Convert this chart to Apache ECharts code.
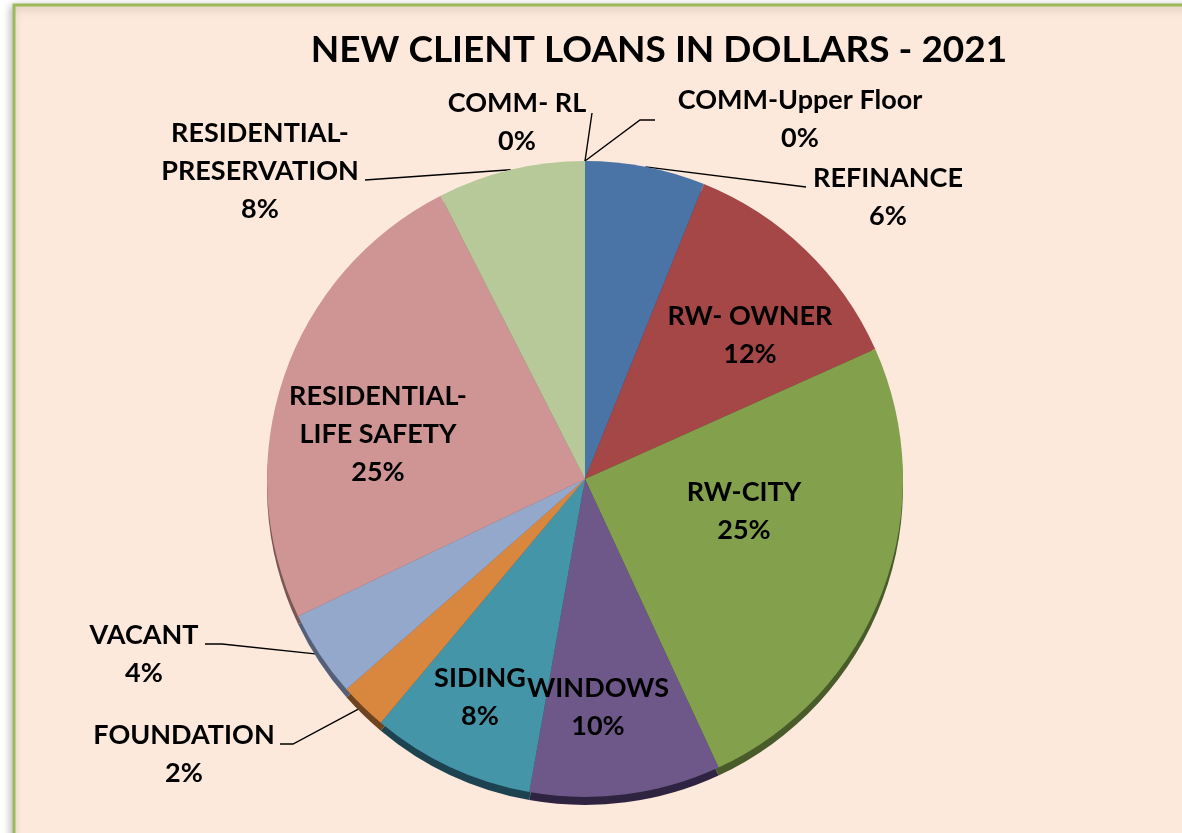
<!DOCTYPE html>
<html><head><meta charset="utf-8">
<script src="https://cdn.jsdelivr.net/npm/echarts@6/dist/echarts.min.js"></script>
<style>html,body{margin:0;padding:0;background:#fff}#c{width:1182px;height:833px}</style>
</head><body><div id="c"></div>
<script>
// ---- data ----
const chartTitle = 'NEW CLIENT LOANS IN DOLLARS - 2021';
const categories = ['REFINANCE', 'RW- OWNER', 'RW-CITY', 'WINDOWS', 'SIDING', 'FOUNDATION', 'VACANT',
  'RESIDENTIAL-\nLIFE SAFETY', 'RESIDENTIAL-\nPRESERVATION', 'COMM- RL', 'COMM-Upper Floor'];
const shares = [6.1, 12.2, 24.8, 9.7, 8.3, 2.4, 4.4, 24.6, 7.5, 0, 0];

// ---- styles ----
const sliceColors = ['#4A74A6', '#A44746', '#83A04C', '#6E5889', '#4595A9', '#D9873F', '#94A8CB', '#CF9594', '#B8C999', '#4A74A6', '#A44746'];
const rimColors = ['#2A4262', '#5E2827', '#4A5B2B', '#2E2340', '#1E4350', '#6E4420', '#546079', '#7A5757', '#6B7758', '#2A4262', '#5E2827'];
const outsideLabel = [true, false, false, false, false, true, true, false, true, true, true];
// label block centres and leader end points (layout only)
const labelPlacement = [
  {x: 888, y: 197, line: [[806, 187], [806, 187]]},
  {x: 750, y: 335},
  {x: 744, y: 511},
  {x: 598, y: 707},
  {x: 480, y: 697},
  {x: 184, y: 754, line: [[293, 744], [280, 744]]},
  {x: 144, y: 654, line: [[222, 644], [205, 644]]},
  {x: 378, y: 434},
  {x: 260, y: 171, line: [[365, 180], [365, 180]]},
  {x: 517, y: 122, line: [[592, 113], [592, 113]]},
  {x: 800, y: 119, line: [[640, 120], [655, 120]]}
];
const cx = 585, cy = 479, R = 318;
const FONT = 'Lato';

const chart = echarts.init(document.getElementById('c'), null, {renderer: 'canvas'});
chart.setOption({
  animation: false,
  graphic: [{
    type: 'rect', z: -10, silent: true,
    shape: {x: 14, y: 5, width: 1300, height: 1000},
    style: {fill: '#FCE9DB', stroke: '#9BBB59', lineWidth: 3, shadowBlur: 8, shadowColor: 'rgba(0,0,0,0.25)', shadowOffsetX: -2, shadowOffsetY: 2}
  }],
  title: {
    text: chartTitle, left: 654, top: 27, textAlign: 'center',
    textStyle: {fontFamily: FONT, fontWeight: 'bold', fontSize: 37, color: '#000'}
  },
  series: [
    {
      type: 'pie', silent: true, center: [cx, cy + 8], radius: R, startAngle: 90, clockwise: true,
      label: {show: false}, labelLine: {show: false},
      data: shares.map((v, i) => ({name: categories[i], value: v, itemStyle: {color: rimColors[i]}}))
    },
    {
      type: 'pie', center: [cx, cy], radius: R, startAngle: 90, clockwise: true,
      avoidLabelOverlap: false,
      itemStyle: {borderWidth: 0},
      label: {
        show: true, color: '#000', fontFamily: FONT, fontWeight: 'bold', fontSize: 27, lineHeight: 38,
        formatter: p => p.name + '\n' + Math.round(p.percent) + '%'
      },
      labelLine: {show: true, lineStyle: {color: '#000', width: 1.4}},
      labelLayout: function (p) {
        const pl = labelPlacement[p.dataIndex];
        const out = {x: pl.x, y: pl.y, align: 'center', verticalAlign: 'middle'};
        if (pl.line && p.labelLinePoints) {
          out.labelLinePoints = [p.labelLinePoints[0]].concat(pl.line);
        }
        return out;
      },
      data: shares.map((v, i) => ({
        name: categories[i], value: v,
        itemStyle: {color: sliceColors[i]},
        label: {position: outsideLabel[i] ? 'outside' : 'inside'},
        labelLine: {show: outsideLabel[i]}
      }))
    }
  ]
});
</script></body></html>
